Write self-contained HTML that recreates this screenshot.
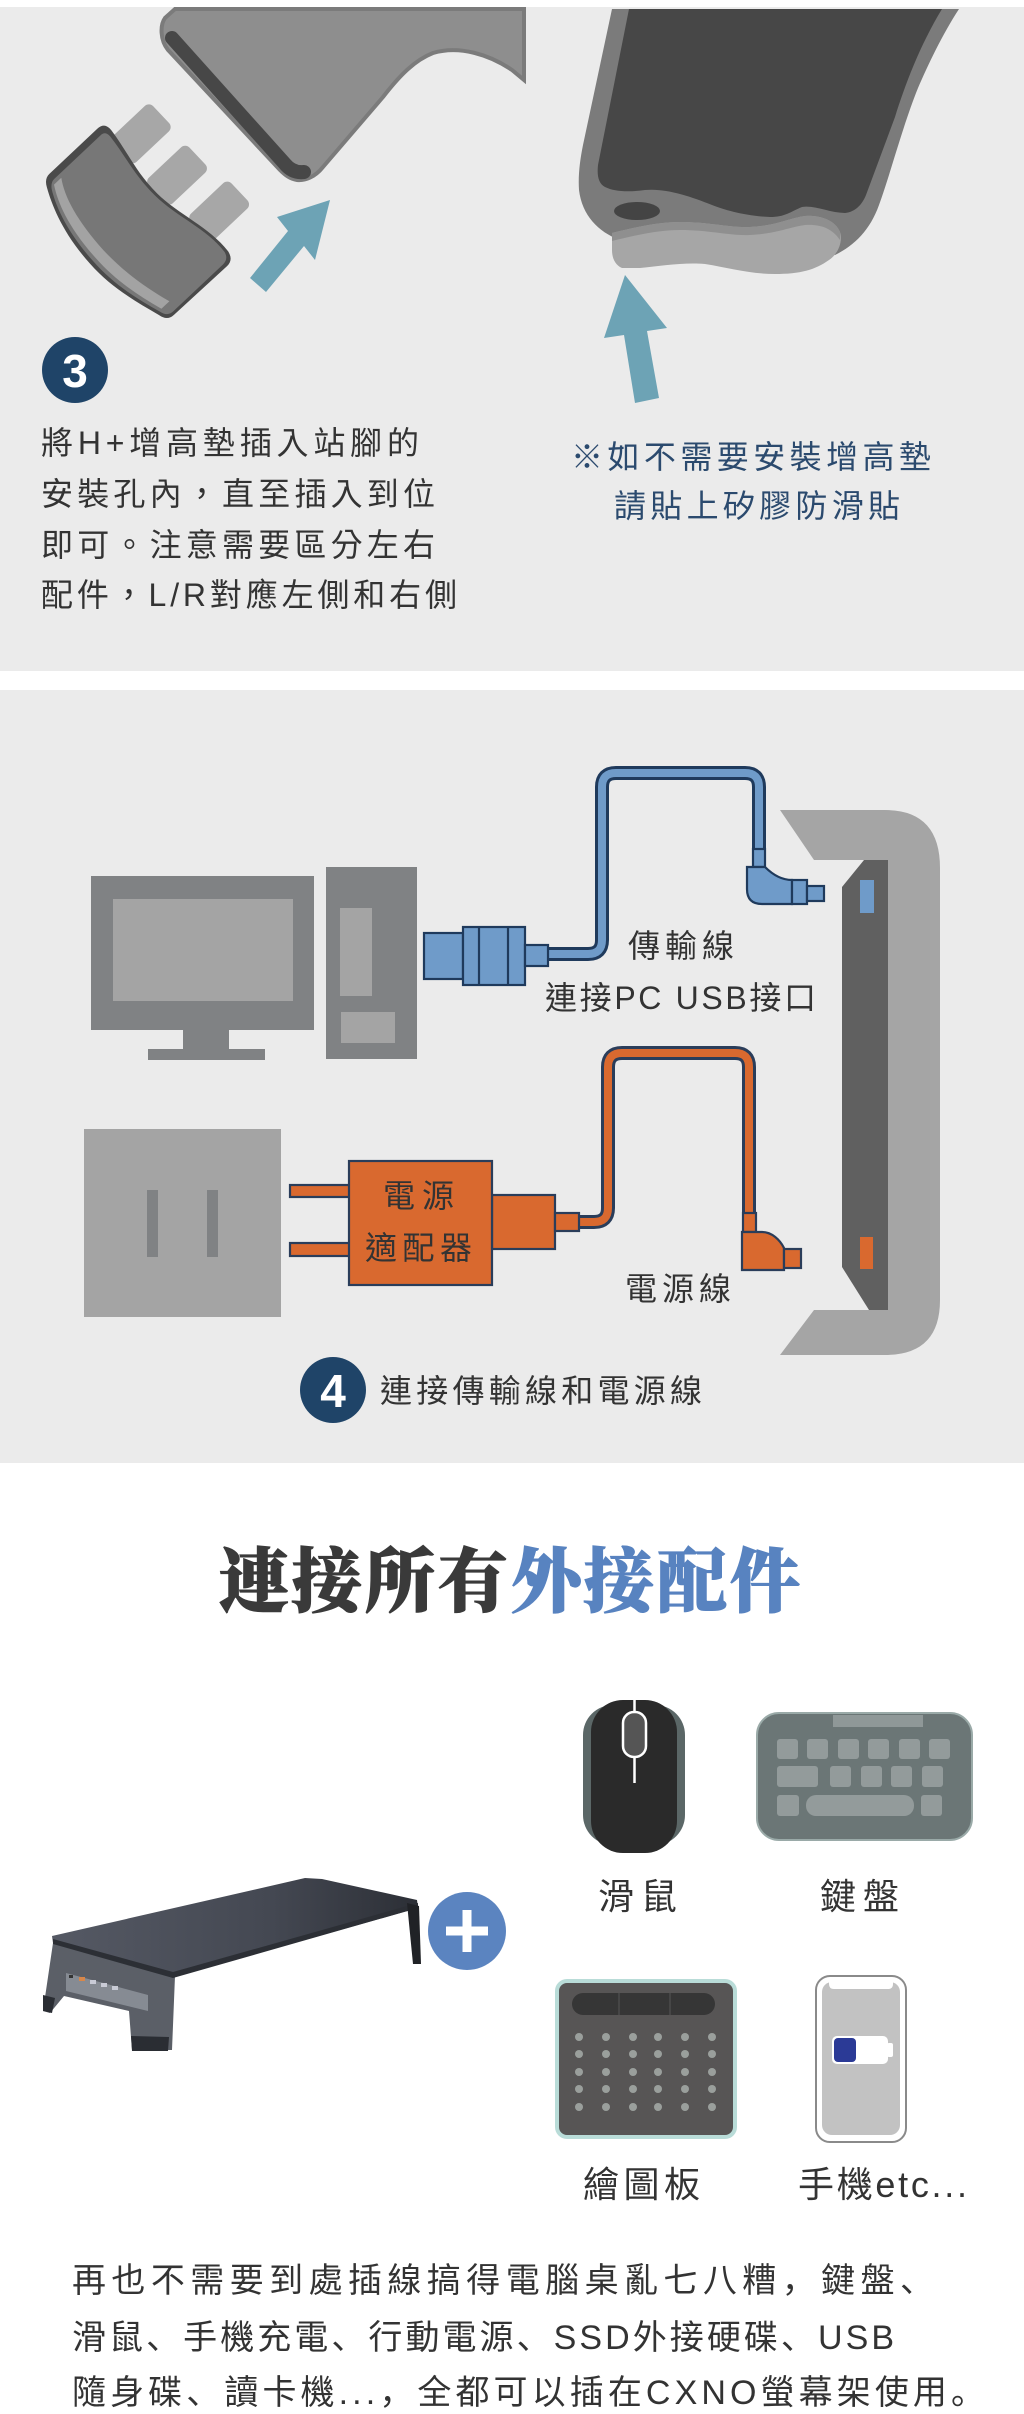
<!DOCTYPE html>
<html><head><meta charset="utf-8"><style>
html,body{margin:0;padding:0;background:#fff}
svg{display:block}
.t{font-family:"Liberation Sans","Noto Sans CJK TC",sans-serif;fill:#333;font-size:32px}
.p{font-family:"Liberation Sans","Noto Sans CJK SC",sans-serif;fill:#333;font-size:34px}
</style></head><body>
<svg xmlns="http://www.w3.org/2000/svg" width="1024" height="2414" viewBox="0 0 1024 2414">
<defs>
<linearGradient id="glass" x1="0" y1="0" x2="1" y2="0">
<stop offset="0" stop-color="#555964"/><stop offset="0.6" stop-color="#444852"/><stop offset="1" stop-color="#2c2f36"/>
</linearGradient>
</defs>
<rect width="1024" height="2414" fill="#fff"/>
<rect x="0" y="7" width="1024" height="664" fill="#ebebeb"/>
<rect x="0" y="690" width="1024" height="773" fill="#ebebeb"/>

<!-- ===== Section 1 ===== -->
<path d="M175 9 L524 9 L524 80 L512 70 C490 55 460 45 433 53 C415 60 400 75 383 97 L323 167 C315 177 305 181 297 180 C290 179 285 175 280 170 L168 50 C160 40 160 25 165 18 Z" fill="#8e8e8e" stroke="#7b7b7b" stroke-width="4"/>
<path d="M172 38 L285 164 C290 170 296 173 304 172" fill="none" stroke="#474747" stroke-width="14" stroke-linecap="round"/>

<g transform="translate(135,221) rotate(46.7)">
<rect x="-77" y="-92" width="35" height="56" rx="6" fill="#a7a7a7"/>
<rect x="-22" y="-90" width="35" height="56" rx="6" fill="#a7a7a7"/>
<rect x="33" y="-96" width="35" height="56" rx="6" fill="#a7a7a7"/>
<path d="M-93 30 L-93 -36 Q-93 -46 -82 -45 C-55 -42 -35 -34 -5 -35 C25 -36 55 -50 86 -47 Q96 -45 96 -36 L95 36 Q95 45 85 47 C55 56 30 63 0 62 C-40 61 -68 50 -85 41 Q-93 37 -93 30 Z" fill="#4a4a4a"/>
<path d="M-86 30 L-86 -34 Q-86 -40 -79 -40 C-55 -38 -35 -31 -5 -32 C25 -33 55 -47 84 -44 Q92 -42 92 -34 L92 34 Q92 42 83 44 C55 53 30 59 0 58 C-40 57 -66 47 -80 39 Q-86 35 -86 30 Z" fill="#777"/>
<path d="M-82 34 C-66 44 -40 53 0 54 C30 55 55 49 82 41 L82 30 C55 38 30 43 0 43 C-40 42 -66 35 -82 24 Z" fill="#a3a3a3"/>
</g>

<polygon points="330,200 315,260 304,246 266,292 250,278 288,231 277,217" fill="#6da3b5"/>

<circle cx="75" cy="370" r="33" fill="#1f4468"/>
<text x="75" y="387" text-anchor="middle" font-family="Liberation Sans, sans-serif" font-weight="bold" font-size="46" fill="#fff">3</text>

<text class="t" x="41" y="454" textLength="378" lengthAdjust="spacing">將H+增高墊插入站腳的</text>
<text class="t" x="41" y="505" textLength="394" lengthAdjust="spacing">安裝孔內，直至插入到位</text>
<text class="t" x="41" y="556" textLength="394" lengthAdjust="spacing">即可。注意需要區分左右</text>
<text class="t" x="41" y="606" textLength="416" lengthAdjust="spacing">配件，L/R對應左側和右側</text>

<!-- right foot -->
<path d="M612 9 L959 9 C942 35 928 65 918 88 C903 125 890 175 879 205 C870 230 855 245 835 255 L620 240 C598 232 582 215 579 190 C578 175 580 160 583 145 Z" fill="#7b7b7b"/>
<path d="M629 9 L942 9 C920 45 905 85 895 117 L866 195 C862 205 855 212 845 213 C830 213 815 205 802 207 C790 212 785 217 770 217 C745 216 725 210 712 205 C690 196 665 188 645 190 C630 192 615 192 605 187 C598 183 597 175 598 165 Z" fill="#474747"/>
<ellipse cx="637" cy="211" rx="23" ry="9" fill="#444"/>
<path d="M612 233 C640 226 660 222 680 222 C710 222 730 228 750 227 C775 226 790 218 805 216 C820 215 835 220 840 232 C843 242 838 254 829 260 C815 270 800 274 775 274 C750 274 730 268 705 264 C685 262 660 266 640 268 L622 268 C615 265 612 258 612 250 Z" fill="#a6a6a6"/>
<path d="M612 233 C640 226 660 222 680 222 C710 222 730 228 750 227 C775 226 790 218 805 216 C820 215 835 220 840 232 L840 240 C832 228 820 224 805 225 C790 227 775 234 750 235 C730 236 710 230 680 230 C660 230 640 234 612 241 Z" fill="#8f8f8f"/>

<polygon points="625,275 667,328 647,331 659,398 635,403 624,335 604,338" fill="#6da3b5"/>

<text class="t" x="571" y="468" textLength="360" lengthAdjust="spacing" style="fill:#2b4a6e">※如不需要安裝增高墊</text>
<text class="t" x="614" y="517" textLength="286" lengthAdjust="spacing" style="fill:#2b4a6e">請貼上矽膠防滑貼</text>

<!-- ===== Section 2 ===== -->
<rect x="91" y="876" width="223" height="154" fill="#808284"/>
<rect x="113" y="899" width="180" height="102" fill="#a4a4a4"/>
<rect x="183" y="1029" width="46" height="21" fill="#808284"/>
<rect x="148" y="1049" width="117" height="11" fill="#808284"/>
<rect x="326" y="867" width="91" height="192" fill="#808284"/>
<rect x="340" y="908" width="32" height="88" fill="#a4a4a4"/>
<rect x="341" y="1012" width="54" height="31" fill="#a4a4a4"/>

<!-- blue cable -->
<path d="M546 954 L588 954 Q602 954 602 940 L602 787 Q602 773 616 773 L745 773 Q759 773 759 787 L759 850" fill="none" stroke="#1f3a5c" stroke-width="14"/>
<path d="M546 954 L588 954 Q602 954 602 940 L602 787 Q602 773 616 773 L745 773 Q759 773 759 787 L759 850" fill="none" stroke="#6f9bc9" stroke-width="8"/>
<g fill="#6f9bc9" stroke="#1f3a5c" stroke-width="2.2">
<rect x="424" y="933" width="39" height="46"/>
<rect x="463" y="927" width="62" height="58"/>
<line x1="479" y1="927" x2="479" y2="985"/>
<line x1="508" y1="927" x2="508" y2="985"/>
<rect x="525" y="945" width="23" height="21"/>
<rect x="753" y="849" width="12" height="18"/>
<path d="M747 867 L765 867 C771 873 780 880 792 880 L792 904 L762 904 Q747 904 747 889 Z"/>
<rect x="792" y="880" width="15" height="24"/>
<rect x="807" y="886" width="17" height="15"/>
</g>

<!-- orange cable -->
<path d="M578 1222 L594 1222 Q608 1222 608 1208 L608 1067 Q608 1053 622 1053 L735 1053 Q749 1053 749 1067 L749 1214" fill="none" stroke="#2a3d5a" stroke-width="14"/>
<path d="M578 1222 L594 1222 Q608 1222 608 1208 L608 1067 Q608 1053 622 1053 L735 1053 Q749 1053 749 1067 L749 1214" fill="none" stroke="#d9692f" stroke-width="8"/>
<g fill="#d9692f" stroke="#2a3d5a" stroke-width="2.2">
<rect x="290" y="1185" width="60" height="12"/>
<rect x="290" y="1243" width="60" height="13"/>
<rect x="492" y="1195" width="63" height="54"/>
<rect x="555" y="1213" width="24" height="18"/>
<rect x="349" y="1161" width="143" height="124"/>
<rect x="743" y="1213" width="13" height="19"/>
<path d="M742 1232 L762 1232 C772 1232 780 1240 784 1248 L784 1270 L742 1270 Z"/>
<rect x="784" y="1249" width="17" height="19"/>
</g>

<rect x="84" y="1129" width="197" height="188" fill="#a4a4a4"/>
<rect x="147" y="1190" width="11" height="67" fill="#808284"/>
<rect x="207" y="1190" width="11" height="67" fill="#808284"/>

<!-- stand -->
<path d="M780 810 L885 810 Q940 810 940 868 L940 1300 Q940 1355 885 1355 L780 1355 L814 1310 L888 1310 L888 860 L814 860 Z" fill="#a5a5a5"/>
<path d="M864 860 L888 860 L888 1310 L869 1310 L842 1267 L842 887 Z" fill="#606060"/>
<rect x="860" y="880" width="14" height="33" fill="#6f9bc9"/>
<rect x="860" y="1237" width="13" height="32" fill="#d9692f"/>

<text class="t" x="628" y="957" textLength="106" lengthAdjust="spacing">傳輸線</text>
<text class="t" x="545" y="1009" textLength="271" lengthAdjust="spacing">連接PC USB接口</text>
<text class="t" x="383" y="1207" textLength="71" lengthAdjust="spacing">電源</text>
<text class="t" x="365" y="1259" textLength="107" lengthAdjust="spacing">適配器</text>
<text class="t" x="625" y="1300" textLength="106" lengthAdjust="spacing">電源線</text>

<circle cx="333" cy="1390" r="33" fill="#1f4468"/>
<text x="333" y="1407" text-anchor="middle" font-family="Liberation Sans, sans-serif" font-weight="bold" font-size="46" fill="#fff">4</text>
<text class="t" x="380" y="1402" textLength="322" lengthAdjust="spacing">連接傳輸線和電源線</text>

<!-- ===== Section 3 ===== -->
<text x="219" y="1606" textLength="581" lengthAdjust="spacing" font-family="Liberation Serif, 'Noto Serif CJK SC', serif" font-weight="900" font-size="70" fill="#3a3a3a" stroke="#3a3a3a" stroke-width="1.2">連接所有<tspan fill="#5883c0" stroke="#5883c0">外接配件</tspan></text>

<!-- monitor stand product -->
<polygon points="53,1943 175,1976 172,2050 132,2050 129,2011 64,1996 50,2013 43,2011" fill="#5b5f67"/>
<path d="M66 1973 L148 1995 L148 2011 L66 1991 Z" fill="#868b93"/>
<rect x="69" y="1975" width="4" height="3" fill="#333"/>
<rect x="79" y="1977" width="6" height="4" fill="#d8874a"/>
<rect x="90" y="1980" width="6" height="4" fill="#c9cbd6"/>
<rect x="101" y="1983" width="6" height="4" fill="#c9cbd6"/>
<rect x="112" y="1986" width="6" height="4" fill="#c9cbd6"/>
<polygon points="43,1995 55,1998 52,2013 43,2011" fill="#2a2d33"/>
<polygon points="131,2036 169,2037 168,2051 132,2051" fill="#2a2d33"/>
<polygon points="298,1892 312,1890 312,1922 301,1925" fill="#25282d"/>
<polygon points="52,1936 305,1878 322,1879 417,1900 418,1908 173,1977 53,1943" fill="url(#glass)"/>
<polygon points="53,1939 173,1972 418,1903 418,1908 173,1978 53,1944" fill="#2c2f35"/>
<polygon points="407,1903 419,1906 421,1964 413,1964" fill="#202226"/>

<circle cx="467" cy="1931" r="39" fill="#5b84c0"/>
<rect x="446" y="1926.5" width="42" height="9" fill="#fff"/>
<rect x="462.5" y="1910" width="9" height="42" fill="#fff"/>

<!-- mouse -->
<rect x="583" y="1705" width="102" height="140" rx="30" fill="#5b6767"/>
<rect x="591" y="1700" width="86" height="153" rx="32" fill="#2a2a2a"/>
<line x1="634.5" y1="1700" x2="634.5" y2="1783" stroke="#fff" stroke-width="2.5"/>
<rect x="623" y="1712" width="23" height="45" rx="11" fill="#555" stroke="#fff" stroke-width="2.5"/>

<!-- keyboard -->
<rect x="757" y="1713" width="215" height="127" rx="22" fill="#6b7676" stroke="#9aaaa8" stroke-width="2"/>
<rect x="833" y="1715" width="90" height="12" fill="#8f9898"/>
<g fill="#939b9b">
<rect x="777" y="1739" width="21" height="20" rx="3"/><rect x="807" y="1739" width="21" height="20" rx="3"/><rect x="838" y="1739" width="21" height="20" rx="3"/><rect x="868" y="1739" width="21" height="20" rx="3"/><rect x="899" y="1739" width="21" height="20" rx="3"/><rect x="929" y="1739" width="21" height="20" rx="3"/>
<rect x="777" y="1766" width="41" height="21" rx="3"/><rect x="830" y="1766" width="21" height="21" rx="3"/><rect x="861" y="1766" width="21" height="21" rx="3"/><rect x="891" y="1766" width="21" height="21" rx="3"/><rect x="922" y="1766" width="21" height="21" rx="3"/>
<rect x="777" y="1795" width="22" height="21" rx="3"/><rect x="806" y="1795" width="108" height="21" rx="10"/><rect x="921" y="1795" width="21" height="21" rx="3"/>
</g>

<!-- tablet -->
<rect x="557" y="1981" width="178" height="156" rx="10" fill="#575555" stroke="#b9dcd8" stroke-width="4"/>
<rect x="572" y="1993" width="143" height="22" rx="11" fill="#363636"/>
<line x1="619" y1="1993" x2="619" y2="2015" stroke="#555" stroke-width="1"/>
<line x1="670" y1="1993" x2="670" y2="2015" stroke="#555" stroke-width="1"/>
<g fill="#9a9f9c">
<circle cx="579" cy="2037" r="4"/><circle cx="606" cy="2037" r="4"/><circle cx="633" cy="2037" r="4"/><circle cx="658" cy="2037" r="4"/><circle cx="685" cy="2037" r="4"/><circle cx="712" cy="2037" r="4"/>
<circle cx="579" cy="2054" r="4"/><circle cx="606" cy="2054" r="4"/><circle cx="633" cy="2054" r="4"/><circle cx="658" cy="2054" r="4"/><circle cx="685" cy="2054" r="4"/><circle cx="712" cy="2054" r="4"/>
<circle cx="579" cy="2072" r="4"/><circle cx="606" cy="2072" r="4"/><circle cx="633" cy="2072" r="4"/><circle cx="658" cy="2072" r="4"/><circle cx="685" cy="2072" r="4"/><circle cx="712" cy="2072" r="4"/>
<circle cx="579" cy="2089" r="4"/><circle cx="606" cy="2089" r="4"/><circle cx="633" cy="2089" r="4"/><circle cx="658" cy="2089" r="4"/><circle cx="685" cy="2089" r="4"/><circle cx="712" cy="2089" r="4"/>
<circle cx="579" cy="2107" r="4"/><circle cx="606" cy="2107" r="4"/><circle cx="633" cy="2107" r="4"/><circle cx="658" cy="2107" r="4"/><circle cx="685" cy="2107" r="4"/><circle cx="712" cy="2107" r="4"/>
</g>

<!-- phone -->
<rect x="816" y="1976" width="90" height="166" rx="14" fill="#fff" stroke="#8a8a8a" stroke-width="2"/>
<rect x="822" y="1982" width="78" height="153" rx="10" fill="#c2c2c2"/>
<path d="M829 1981 L893 1981 L893 1984 Q893 1989 888 1989 L834 1989 Q829 1989 829 1984 Z" fill="#fff"/>
<rect x="832" y="2036" width="56" height="28" rx="5" fill="#fff"/>
<rect x="887" y="2043" width="6" height="14" rx="2" fill="#fff"/>
<rect x="834" y="2038" width="22" height="24" rx="4" fill="#2b3a96"/>

<text class="t" x="598" y="1909" textLength="79" lengthAdjust="spacing" style="font-size:36px">滑鼠</text>
<text class="t" x="820" y="1909" textLength="79" lengthAdjust="spacing" style="font-size:36px">鍵盤</text>
<text class="t" x="583" y="2197" textLength="117" lengthAdjust="spacing" style="font-size:36px">繪圖板</text>
<text class="t" x="798" y="2197" textLength="169" lengthAdjust="spacing" style="font-size:36px">手機etc...</text>

<text class="p" x="72" y="2292" textLength="862" lengthAdjust="spacing">再也不需要到處插線搞得電腦桌亂七八糟，鍵盤、</text>
<text class="p" x="72" y="2349" textLength="822" lengthAdjust="spacing">滑鼠、手機充電、行動電源、SSD外接硬碟、USB</text>
<text class="p" x="72" y="2404" textLength="913" lengthAdjust="spacing">隨身碟、讀卡機...，全都可以插在CXNO螢幕架使用。</text>
</svg>
</body></html>
